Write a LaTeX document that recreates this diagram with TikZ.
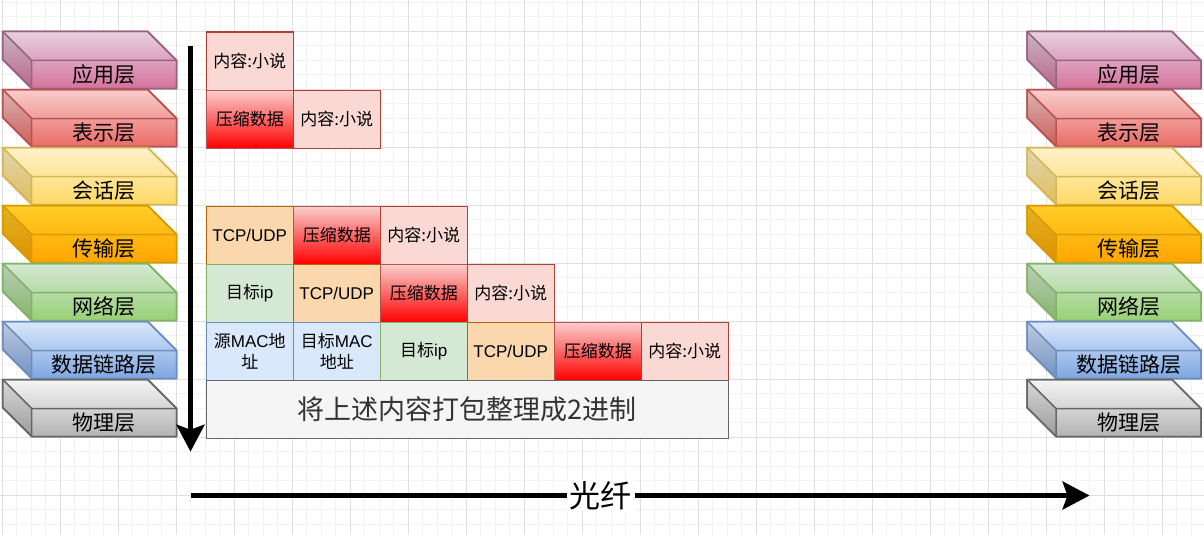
\documentclass[tikz,border=0pt]{standalone}
\usepackage{fontspec}
\setmainfont{Liberation Sans}
\newfontfamily\cjk{Noto Sans CJK SC}
\usetikzlibrary{arrows.meta}

\definecolor{gridMinor}{HTML}{F2F2F2}
\definecolor{gridMajor}{HTML}{E0E0E0}
% layer colours: T top, B bottom, S stroke
\definecolor{appT}{HTML}{E6D0DE}\definecolor{appB}{HTML}{D5739D}\definecolor{appS}{HTML}{996185}
\definecolor{preT}{HTML}{F8CECC}\definecolor{preB}{HTML}{EA6B66}\definecolor{preS}{HTML}{B85450}
\definecolor{sesT}{HTML}{FFF2CC}\definecolor{sesB}{HTML}{FFD966}\definecolor{sesS}{HTML}{D6B656}
\definecolor{traT}{HTML}{FFCD28}\definecolor{traB}{HTML}{FFA500}\definecolor{traS}{HTML}{D79B00}
\definecolor{netT}{HTML}{D5E8D4}\definecolor{netB}{HTML}{97D077}\definecolor{netS}{HTML}{82B366}
\definecolor{lnkT}{HTML}{DAE8FC}\definecolor{lnkB}{HTML}{7EA6E0}\definecolor{lnkS}{HTML}{6C8EBF}
\definecolor{phyT}{HTML}{F5F5F5}\definecolor{phyB}{HTML}{B3B3B3}\definecolor{phyS}{HTML}{666666}
% cell colours
\definecolor{txtF}{HTML}{FAD9D5}\definecolor{txtS}{HTML}{AE4132}
\definecolor{zipT}{HTML}{F8CECC}\definecolor{zipB}{HTML}{FF0000}\definecolor{zipS}{HTML}{B85450}
\definecolor{tcpF}{HTML}{FAD7AC}\definecolor{tcpS}{HTML}{B46504}
\definecolor{ipF}{HTML}{D5E8D4}\definecolor{ipS}{HTML}{82B366}
\definecolor{macF}{HTML}{DAE8FC}\definecolor{macS}{HTML}{6C8EBF}
\definecolor{binF}{HTML}{F5F5F5}\definecolor{binS}{HTML}{666666}\definecolor{binT}{HTML}{333333}

\tikzset{
  layertext/.style={inner sep=0pt, minimum width=145pt, minimum height=28pt, anchor=north west,
    font=\cjk\fontsize{21}{24}\selectfont},
  cell/.style={line width=1.5pt, minimum width=87pt, minimum height=58pt, inner sep=0pt,
    anchor=north west, align=center, font=\fontsize{17}{21}\selectfont},
  txt/.style={cell, fill=txtF, draw=txtS, font=\cjk\fontsize{17}{21}\selectfont},
  zip/.style={cell, top color=zipT, bottom color=zipB, draw=zipS, font=\cjk\fontsize{17}{21}\selectfont},
  tcp/.style={cell, fill=tcpF, draw=tcpS},
  ipc/.style={cell, fill=ipF, draw=ipS},
  mac/.style={cell, fill=macF, draw=macS},
  binbox/.style={line width=1.5pt, fill=binF, draw=binS, text=binT, minimum width=522pt,
    minimum height=58pt, inner sep=0pt, anchor=north west, font=\cjk\fontsize{27}{30}\selectfont},
  bigarrow/.style={line width=4.5pt, -{Stealth[length=27pt,width=28pt,inset=5pt]}},
  fiberlabel/.style={fill=white, inner xsep=3pt, inner ysep=1pt, font=\cjk\fontsize{31}{34}\selectfont},
}

% #1 name, #2 x, #3 y (top), #4 colour prefix, #5 text
\newcommand{\osilayer}[5]{%
  \path[top color=#4T, bottom color=#4B, draw=#4S, line width=1.5pt, line join=round]
    (#2,#3) -- ++(145,0) -- ++(29,29) -- ++(0,28) -- ++(-145,0) -- ++(-29,-29) -- cycle;
  \fill[black, opacity=0.12] (#2,#3) -- ++(29,29) -- ++(0,28) -- ++(-29,-29) -- cycle;
  \draw[#4S, line width=1.5pt, line join=round]
    (#2,#3) -- ++(29,29) -- ++(145,0) ({#2+29},{#3+29}) -- ++(0,28);
  \draw[#4S, line width=1.5pt, line join=round]
    (#2,#3) -- ++(145,0) -- ++(29,29) -- ++(0,28) -- ++(-145,0) -- ++(-29,-29) -- cycle;
  \node[layertext] (#1) at ({#2+29},{#3+29}) {#5};
}

\begin{document}
\begin{tikzpicture}[x=1pt, y=-1pt]
\useasboundingbox (0,0) rectangle (1204,535);
\fill[white] (0,0) rectangle (1204,535);
% grid
\foreach \i in {0,...,82} {\draw[gridMinor, line width=1pt] ({2.3+14.5*\i},0) -- ({2.3+14.5*\i},535);}
\foreach \j in {0,...,36} {\draw[gridMinor, line width=1pt] (0,{2.3+14.5*\j}) -- (1204,{2.3+14.5*\j});}
\foreach \i in {0,...,20} {\draw[gridMajor, line width=1pt] ({2.3+58*\i},0) -- ({2.3+58*\i},535);}
\foreach \j in {0,...,8} {\draw[gridMajor, line width=1pt] (0,{31.3+58*\j}) -- (1204,{31.3+58*\j});}

% left stack
\osilayer{La}{2.7}{31.5}{app}{应用层}
\osilayer{Lb}{2.7}{89.5}{pre}{表示层}
\osilayer{Lc}{2.7}{147.5}{ses}{会话层}
\osilayer{Ld}{2.7}{205.5}{tra}{传输层}
\osilayer{Le}{2.7}{263.5}{net}{网络层}
\osilayer{Lf}{2.7}{321.5}{lnk}{数据链路层}
\osilayer{Lg}{2.7}{379.5}{phy}{物理层}
% right stack
\osilayer{Ra}{1027}{31.5}{app}{应用层}
\osilayer{Rb}{1027}{89.5}{pre}{表示层}
\osilayer{Rc}{1027}{147.5}{ses}{会话层}
\osilayer{Rd}{1027}{205.5}{tra}{传输层}
\osilayer{Re}{1027}{263.5}{net}{网络层}
\osilayer{Rf}{1027}{321.5}{lnk}{数据链路层}
\osilayer{Rg}{1027}{379.5}{phy}{物理层}

% packet cells
\node[txt] (c11) at (205.5,31.5) {内容:小说};

\node[zip] (c21) at (205.5,89.5) {压缩数据};
\node[txt] (c22) at (292.5,89.5) {内容:小说};

\node[tcp] (c41) at (205.5,205.5) {TCP/UDP};
\node[zip] (c42) at (292.5,205.5) {压缩数据};
\node[txt] (c43) at (379.5,205.5) {内容:小说};

\node[ipc] (c51) at (205.5,263.5) {{\cjk 目标}ip};
\node[tcp] (c52) at (292.5,263.5) {TCP/UDP};
\node[zip] (c53) at (379.5,263.5) {压缩数据};
\node[txt] (c54) at (466.5,263.5) {内容:小说};

\node[mac] (c61) at (205.5,321.5) {{\cjk 源}MAC{\cjk 地}\\{\cjk 址}};
\node[mac] (c62) at (292.5,321.5) {{\cjk 目标}MAC\\{\cjk 地址}};
\node[ipc] (c63) at (379.5,321.5) {{\cjk 目标}ip};
\node[tcp] (c64) at (466.5,321.5) {TCP/UDP};
\node[zip] (c65) at (553.5,321.5) {压缩数据};
\node[txt] (c66) at (640.5,321.5) {内容:小说};

\node[binbox] (bin) at (205.5,379.5) {将上述内容打包整理成2进制};

% arrows
\coordinate (vs) at (190.5,46);
\coordinate (ve) at (190.5,451.7);
\draw[bigarrow] (vs) -- (ve);

\coordinate (hs) at (191,495.5);
\coordinate (he) at (1089.5,495.5);
\draw[bigarrow] (hs) -- node[pos=0.4558, fiberlabel] (fiber) {光纤} (he);
\end{tikzpicture}
\end{document}
